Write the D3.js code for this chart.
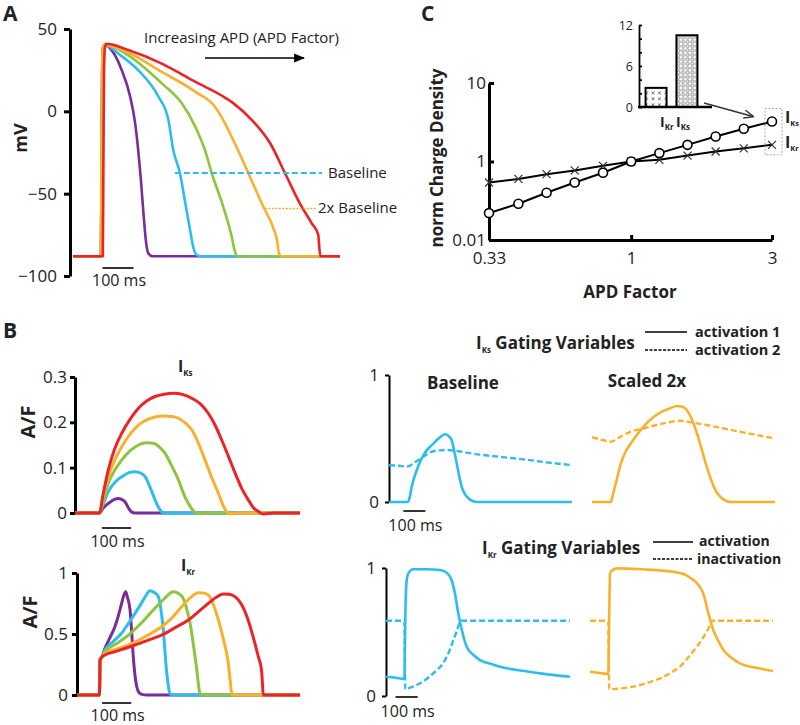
<!DOCTYPE html>
<html><head><meta charset="utf-8">
<script src="https://cdn.jsdelivr.net/npm/d3@7"></script>
<style>body{margin:0;background:#fff}svg{display:block}</style>
</head><body>
<svg id="fig" width="800" height="725"></svg>
<script>
// ---------------- DATA ----------------
const apdColors = ["#7a2d98", "#2dbcef", "#8cc63f", "#fbb02c", "#ec2327"]; // short -> long APD
// Panel A: action potentials [time ms, mV]
const mvTicks = [-100, -50, 0, 50];
const apPurple = [[-90,-88],[0,-88],[2,-30],[4,25],[7,39],[12,40.5],[35,37],[67,25],[94,9],[110,-7],[120,-23.5],[128,-40],[137,-62],[145,-79],[152,-86],[165,-88],[770,-88]];
const apBlue = [[-90,-88],[0,-88],[2,-30],[4,25],[7,39],[12,40.5],[56,35],[120,25],[185,9],[217,-5],[233,-23.5],[255,-38],[271,-55],[287,-72],[298,-83],[307,-87],[320,-88],[770,-88]];
const apGreen = [[-90,-88],[0,-88],[2,-30],[4,25],[7,39],[13,40.5],[88,34],[196,17],[260,5],[303,-9],[335,-23.5],[357,-37.6],[394,-58],[421,-76],[430,-84],[440,-88],[770,-88]];
const apOrange = [[-90,-88],[0,-88],[2,-30],[4,25],[7,39],[13,40.5],[88,35.6],[196,24],[303,12],[367,2.8],[394,-5.3],[426,-17.4],[475,-37.6],[518,-56],[561,-74],[568,-79],[573,-86],[582,-88],[770,-88]];
const apRed = [[-90,-88],[6,-88],[8,-30],[10,25],[13,39],[18,41],[88,37.2],[196,29],[303,18],[394,9],[426,5],[491,-6.3],[545,-19.4],[593,-37.6],[641,-56],[679,-68],[700,-75],[703,-82],[707,-88],[770,-88]];

// Panel B: IKs and IKr currents [time ms, A/F]
const iksTicks = [0, 0.1, 0.2, 0.3];
const iksPurple = [[-80,0],[4,0],[15,0.01],[34,0.021],[55,0.03],[68,0.032],[80,0.03],[91,0.025],[104,0.01],[114,0.002],[125,0],[690,0]];
const iksBlue = [[-80,0],[4,0],[15,0.017],[34,0.047],[60,0.07],[80,0.08],[105,0.089],[125,0.091],[145,0.088],[160,0.08],[178,0.055],[194,0.029],[210,0.008],[222,0],[690,0]];
const iksGreen = [[-80,0],[4,0],[15,0.022],[34,0.066],[55,0.093],[80,0.117],[110,0.138],[137,0.15],[165,0.155],[188,0.154],[210,0.145],[228,0.132],[250,0.105],[274,0.073],[290,0.045],[308,0.021],[325,0.005],[337,-0.001],[360,0],[690,0]];
const iksOrange = [[-80,0],[4,0],[15,0.03],[34,0.08],[55,0.115],[80,0.146],[110,0.175],[137,0.194],[175,0.208],[217,0.214],[250,0.213],[274,0.209],[300,0.197],[320,0.183],[345,0.15],[365,0.117],[390,0.075],[411,0.043],[428,0.015],[439,0.003],[450,-0.002],[480,0],[690,0]];
const iksRed = [[-80,0],[4,0],[15,0.037],[34,0.095],[55,0.14],[80,0.176],[110,0.208],[137,0.231],[165,0.247],[194,0.257],[225,0.262],[257,0.264],[290,0.261],[320,0.253],[350,0.24],[376,0.22],[400,0.193],[422,0.161],[445,0.125],[468,0.088],[490,0.055],[513,0.029],[530,0.012],[548,0.003],[565,-0.002],[600,0],[690,0]];
const ikrTicks = [0, 0.5, 1];
const ikrPurple = [[-75,0],[2,0],[4,0.287],[10,0.31],[21,0.383],[38,0.47],[55,0.56],[67,0.65],[78,0.75],[86,0.82],[92,0.847],[98,0.8],[107,0.697],[113,0.5],[118,0.314],[124,0.16],[130,0.068],[138,0.02],[147,0.005],[165,0],[690,0]];
const ikrBlue = [[-75,0],[2,0],[4,0.287],[10,0.31],[21,0.369],[50,0.44],[78,0.506],[105,0.6],[135,0.71],[158,0.8],[175,0.855],[190,0.84],[204,0.806],[213,0.7],[221,0.533],[227,0.35],[232,0.205],[238,0.08],[244,0.01],[255,0],[690,0]];
const ikrGreen = [[-75,0],[2,0],[4,0.287],[10,0.31],[21,0.355],[60,0.42],[101,0.49],[150,0.6],[192,0.71],[225,0.79],[255,0.847],[275,0.83],[290,0.79],[302,0.7],[313,0.588],[325,0.4],[336,0.205],[342,0.08],[347,0.01],[360,0],[690,0]];
const ikrOrange = [[-75,0],[2,0],[4,0.287],[10,0.31],[21,0.342],[60,0.375],[101,0.41],[160,0.48],[215,0.56],[250,0.63],[284,0.724],[315,0.8],[341,0.839],[360,0.835],[375,0.82],[393,0.74],[410,0.615],[428,0.45],[444,0.26],[450,0.13],[456,0.01],[465,0],[690,0]];
const ikrRed = [[-75,0],[2,0],[4,0.287],[10,0.31],[21,0.328],[55,0.355],[124,0.41],[170,0.45],[215,0.49],[260,0.55],[307,0.615],[345,0.69],[375,0.75],[405,0.805],[427,0.828],[447,0.825],[467,0.806],[490,0.74],[512,0.615],[530,0.47],[547,0.314],[558,0.205],[561,0.1],[564,0],[580,0],[690,0]];

// Gating variables [time ms, value]
const gateTicks = [0, 1];
const gksBaseAct1 = [[-85,0],[0,0],[8,0.03],[18,0.12],[41,0.252],[71,0.37],[116,0.46],[150,0.515],[169,0.533],[185,0.52],[199,0.488],[211,0.4],[222,0.305],[234,0.2],[245,0.12],[260,0.06],[275,0.03],[295,0.008],[313,0],[745,0]];
const gksBaseAct2 = [[-85,0.29],[-40,0.285],[0,0.28],[30,0.31],[71,0.357],[116,0.4],[177,0.41],[230,0.4],[298,0.38],[420,0.355],[524,0.336],[640,0.31],[745,0.29]];
const gksScaledAct1 = [[-85,0],[0,0],[10,0.06],[27,0.173],[42,0.28],[57,0.357],[103,0.49],[178,0.646],[230,0.71],[269,0.737],[299,0.756],[325,0.75],[345,0.724],[375,0.62],[405,0.462],[428,0.32],[450,0.2],[473,0.1],[496,0.042],[520,0.012],[541,0],[745,0]];
const gksScaledAct2 = [[-85,0.51],[-40,0.49],[0,0.475],[40,0.51],[88,0.553],[150,0.58],[208,0.606],[270,0.63],[314,0.64],[370,0.625],[435,0.606],[510,0.58],[586,0.553],[670,0.525],[745,0.5]];
const gkrBaseAct = [[-85,0.15],[-40,0.142],[-2,0.133],[2,0.6],[8,0.9],[16,0.958],[38,0.99],[100,0.99],[159,0.984],[189,0.963],[211,0.906],[226,0.8],[241,0.646],[257,0.516],[279,0.385],[310,0.32],[339,0.281],[400,0.245],[460,0.216],[540,0.195],[610,0.177],[745,0.15]];
const gkrBaseInact = [[-85,0.588],[-2,0.588],[0,0.3],[2,0.052],[30,0.07],[69,0.099],[110,0.15],[144,0.203],[170,0.25],[189,0.307],[205,0.37],[219,0.4375],[235,0.51],[249,0.58],[255,0.588],[745,0.588]];
const gkrScaledAct = [[-85,0.19],[-40,0.18],[-2,0.172],[2,0.6],[6,0.958],[15,0.98],[36,0.997],[150,0.99],[293,0.971],[350,0.945],[384,0.906],[410,0.86],[429,0.8],[452,0.646],[474,0.516],[497,0.43],[520,0.36],[555,0.3],[595,0.255],[670,0.22],[745,0.195]];
const gkrScaledInact = [[-85,0.588],[-2,0.588],[0,0.3],[2,0.052],[40,0.058],[112,0.073],[170,0.1],[233,0.138],[280,0.18],[323,0.229],[360,0.3],[399,0.385],[430,0.46],[459,0.555],[467,0.588],[745,0.588]];

// Panel C: normalized charge density vs APD factor
const apdFactors = [0.33, 0.415, 0.517, 0.644, 0.803, 1, 1.246, 1.552, 1.933, 2.408, 3];
const iksCharge = [0.22, 0.29, 0.40, 0.54, 0.72, 1.0, 1.28, 1.63, 2.08, 2.61, 3.23];
const ikrCharge = [0.54, 0.60, 0.69, 0.77, 0.88, 1.0, 1.05, 1.19, 1.34, 1.47, 1.63];
const chargeYTicks = [0.1, 1, 10];
const chargeYLabels = ["0.01", "1", "10"];
const factorTicks = [0.33, 1, 3];
const factorLabels = ["0.33", "1", "3"];
// Inset: ratio bars
const insetCats = ["IKr", "IKs"];
const insetVals = [2.8, 10.5];
const insetTicks = [0, 2, 4, 6, 8, 10, 12];

// ---------------- HELPERS ----------------
const FONT = "'Open Sans', Lato, sans-serif";
const svg = d3.select("#fig");
svg.append("rect").attr("width", 800).attr("height", 725).attr("fill", "#fff");

function styleAxis(g, sw, fs) {
  g.attr("font-family", FONT).attr("font-size", fs);
  g.select(".domain").attr("stroke", "#000").attr("stroke-width", sw);
  g.selectAll(".tick line").attr("stroke", "#000").attr("stroke-width", sw);
  g.selectAll(".tick text").attr("fill", "#222");
}
function drawLine(data, x, y, color, width, dash, curve) {
  svg.append("path").datum(data)
    .attr("d", d3.line().x(d => x(d[0])).y(d => y(d[1])).curve(curve || d3.curveMonotoneX))
    .attr("fill", "none").attr("stroke", color).attr("stroke-width", width)
    .attr("stroke-linejoin", "round").attr("stroke-dasharray", dash || null);
}
function txt(x, y, s, size, weight, anchor, rot) {
  const t = svg.append("text").attr("font-family", FONT).attr("font-size", size)
    .attr("font-weight", weight || "normal").attr("text-anchor", anchor || "start").attr("fill", "#222").text(s);
  if (rot) t.attr("transform", `translate(${x},${y}) rotate(${rot})`); else t.attr("x", x).attr("y", y);
  return t;
}
function subTxt(x, y, main, sub, fm, fsub, rest) {
  const t = svg.append("text").attr("x", x).attr("y", y).attr("font-family", FONT)
    .attr("font-weight", "bold").attr("font-size", fm).attr("fill", "#222");
  t.append("tspan").text(main);
  t.append("tspan").attr("font-size", fsub).attr("dy", fm * 0.22).text(sub);
  if (rest) t.append("tspan").attr("dy", -fm * 0.22).text(rest);
  return t;
}
function scaleBar(x, t1, yPix, textY) {
  svg.append("line").attr("x1", x(t1)).attr("x2", x(t1 + 100)).attr("y1", yPix).attr("y2", yPix)
    .attr("stroke", "#000").attr("stroke-width", 1.6);
  txt((x(t1) + x(t1 + 100)) / 2 + 1, textY, "100 ms", 16, "normal", "middle");
}

// ---------------- PANEL A ----------------
const xA = d3.scaleLinear().domain([-90, 770]).range([73, 340]);
const yA = d3.scaleLinear().domain([-100, 50]).range([276, 29]);
styleAxis(svg.append("g").attr("transform", "translate(70,0)")
  .call(d3.axisLeft(yA).tickValues(mvTicks).tickSize(6).tickSizeOuter(0).tickPadding(7)), 3, 17);
[apPurple, apBlue, apGreen, apOrange, apRed].forEach((d, i) => drawLine(d, xA, yA, apdColors[i], 2.6));
txt(3, 21, "A", 21, "bold");
txt(27, 138, "mV", 18, "bold", "middle", -90);
scaleBar(xA, 5, 268, 286);
txt(144, 43, "Increasing APD (APD Factor)", 15);
svg.append("defs").html(`
 <marker id="ah" viewBox="0 0 10 10" refX="9" refY="5" markerWidth="11" markerHeight="11" markerUnits="userSpaceOnUse" orient="auto"><path d="M0,1 L10,5 L0,9 z" fill="#000"/></marker>
 <marker id="ah2" viewBox="0 0 10 10" refX="9" refY="5" markerWidth="10" markerHeight="10" markerUnits="userSpaceOnUse" orient="auto"><path d="M0,1 L10,5 L0,9" fill="none" stroke="#333" stroke-width="1.4"/></marker>
 <pattern id="xpat" width="6.5" height="6" patternUnits="userSpaceOnUse"><path d="M1.6,1.4 L4.4,4.2 M4.4,1.4 L1.6,4.2" stroke="#555" stroke-width="0.9"/></pattern>
 <pattern id="opat" width="4.6" height="4.4" patternUnits="userSpaceOnUse"><circle cx="2.3" cy="2.2" r="1.5" fill="#fff" stroke="#666" stroke-width="0.8"/></pattern>`);
svg.append("line").attr("x1", 205).attr("x2", 304).attr("y1", 58).attr("y2", 58)
  .attr("stroke", "#000").attr("stroke-width", 1.3).attr("marker-end", "url(#ah)");
svg.append("line").attr("x1", xA(238)).attr("x2", xA(712)).attr("y1", yA(-37.5)).attr("y2", yA(-37.5))
  .attr("stroke", apdColors[1]).attr("stroke-width", 2).attr("stroke-dasharray", "6,3");
txt(328, yA(-37.5) + 5, "Baseline", 15);
svg.append("line").attr("x1", xA(528)).attr("x2", xA(695)).attr("y1", yA(-59)).attr("y2", yA(-59))
  .attr("stroke", apdColors[3]).attr("stroke-width", 1.6).attr("stroke-dasharray", "2,1.5");
txt(318, yA(-59) + 5, "2x Baseline", 15);

// ---------------- PANEL C ----------------
const xC = d3.scaleLog().domain([0.33, 3]).range([489, 772]);
const yC = d3.scaleLog().domain([0.1, 10]).range([240, 83]);
styleAxis(svg.append("g").attr("transform", "translate(489,0)")
  .call(d3.axisLeft(yC).tickValues(chargeYTicks).tickFormat((d, i) => chargeYLabels[i]).tickSize(-5).tickSizeOuter(0).tickPadding(3)), 3, 17);
styleAxis(svg.append("g").attr("transform", "translate(0,240)")
  .call(d3.axisBottom(xC).tickValues(factorTicks).tickFormat((d, i) => factorLabels[i]).tickSize(-5).tickSizeOuter(0).tickPadding(12)), 3, 17);
txt(421, 21, "C", 21, "bold");
txt(630, 298, "APD Factor", 17, "bold", "middle");
txt(443, 158, "norm Charge Density", 17, "bold", "middle", -90);
const ikrPts = apdFactors.map((f, i) => [f, ikrCharge[i]]);
const iksPts = apdFactors.map((f, i) => [f, iksCharge[i]]);
drawLine(ikrPts, xC, yC, "#000", 2, null, d3.curveLinear);
drawLine(iksPts, xC, yC, "#000", 2, null, d3.curveLinear);
svg.append("g").selectAll("path").data(ikrPts).join("path")
  .attr("transform", d => `translate(${xC(d[0])},${yC(d[1])})`)
  .attr("d", "M-4,-4L4,4M4,-4L-4,4").attr("stroke", "#333").attr("stroke-width", 1.2);
svg.append("g").selectAll("circle").data(iksPts).join("circle")
  .attr("cx", d => xC(d[0])).attr("cy", d => yC(d[1])).attr("r", 4.5)
  .attr("fill", "#fff").attr("stroke", "#000").attr("stroke-width", 1.6);
const lastX = xC(apdFactors[apdFactors.length - 1]);
svg.append("rect").attr("x", lastX - 7).attr("y", yC(iksCharge[iksCharge.length - 1]) - 13)
  .attr("width", 17).attr("height", yC(ikrCharge[ikrCharge.length - 1]) - yC(iksCharge[iksCharge.length - 1]) + 23)
  .attr("fill", "none").attr("stroke", "#aaa").attr("stroke-width", 1).attr("stroke-dasharray", "2,1.5");
subTxt(785, yC(iksCharge[iksCharge.length - 1]) + 1, "I", "Ks", 16, 7.5);
subTxt(785, yC(ikrCharge[ikrCharge.length - 1]) + 3, "I", "Kr", 16, 7.5);

// inset
const yIn = d3.scaleLinear().domain([0, 12]).range([107, 25]);
const xIn = d3.scaleBand().domain(insetCats).range([640, 703]).paddingInner(0.32).paddingOuter(0.18);
styleAxis(svg.append("g").attr("transform", "translate(639,0)")
  .call(d3.axisLeft(yIn).tickValues(insetTicks).tickFormat(d => (d % 6 === 0 ? d : "")).tickSize(-3).tickSizeOuter(0).tickPadding(6)), 1.8, 12.5);
svg.selectAll(".insetbar").data(insetVals).join("rect")
  .attr("x", (d, i) => xIn(insetCats[i])).attr("width", xIn.bandwidth())
  .attr("y", d => yIn(d)).attr("height", d => yIn(0) - yIn(d))
  .attr("fill", (d, i) => i === 0 ? "url(#xpat)" : "url(#opat)").attr("stroke", "#000").attr("stroke-width", 2);
svg.append("line").attr("x1", 638).attr("x2", 712).attr("y1", yIn(0)).attr("y2", yIn(0)).attr("stroke", "#000").attr("stroke-width", 2.5);
subTxt(660, 127, "I", "Kr", 14, 8);
subTxt(676, 127, "I", "Ks", 14, 8);
svg.append("line").attr("x1", 704).attr("y1", 103).attr("x2", 753).attr("y2", 116.5)
  .attr("stroke", "#333").attr("stroke-width", 1.4).attr("marker-end", "url(#ah2)");

// ---------------- PANEL B left: IKs ----------------
txt(3, 338, "B", 21, "bold");
const xBs = d3.scaleLinear().domain([-80, 690]).range([75, 300]);
const yBs = d3.scaleLinear().domain([0, 0.3]).range([513, 377]);
styleAxis(svg.append("g").attr("transform", "translate(75,0)")
  .call(d3.axisLeft(yBs).tickValues(iksTicks).tickFormat(d => d === 0 ? "0" : d3.format(".1f")(d)).tickSize(5).tickSizeOuter(0).tickPadding(3)), 3, 17);
[iksPurple, iksBlue, iksGreen, iksOrange, iksRed].forEach((d, i) => drawLine(d, xBs, yBs, apdColors[i], 3));
txt(35, 422, "A/F", 20, "bold", "middle", -90);
subTxt(178, 372, "I", "Ks", 16, 8);
scaleBar(xBs, 12, 528, 547);

// ---------------- PANEL B left: IKr ----------------
const xBr = d3.scaleLinear().domain([-75, 690]).range([77, 300]);
const yBr = d3.scaleLinear().domain([0, 1]).range([695, 573]);
styleAxis(svg.append("g").attr("transform", "translate(77,0)")
  .call(d3.axisLeft(yBr).tickValues(ikrTicks).tickFormat(d => d3.format("")(d)).tickSize(5).tickSizeOuter(0).tickPadding(4)), 3, 17);
[ikrPurple, ikrBlue, ikrGreen, ikrOrange, ikrRed].forEach((d, i) => drawLine(d, xBr, yBr, apdColors[i], 3));
txt(37, 612, "A/F", 20, "bold", "middle", -90);
subTxt(181, 571, "I", "Kr", 16, 8);
scaleBar(xBr, 11, 703, 721);

// ---------------- PANEL B right: IKs gating ----------------
const xGsB = d3.scaleLinear().domain([-85, 745]).range([389, 572]);
const xGsS = d3.scaleLinear().domain([-85, 745]).range([592, 775]);
const yGs = d3.scaleLinear().domain([0, 1]).range([502, 375]);
styleAxis(svg.append("g").attr("transform", "translate(389,0)")
  .call(d3.axisLeft(yGs).tickValues(gateTicks).tickFormat(d3.format("d")).tickSize(4).tickSizeOuter(0).tickPadding(6)), 2, 17);
drawLine(gksBaseAct2, xGsB, yGs, apdColors[1], 2.4, "6,3");
drawLine(gksBaseAct1, xGsB, yGs, apdColors[1], 2.6);
drawLine(gksScaledAct2, xGsS, yGs, apdColors[3], 2.4, "6,3");
drawLine(gksScaledAct1, xGsS, yGs, apdColors[3], 2.6);
txt(463, 389, "Baseline", 17, "bold", "middle");
txt(647, 387, "Scaled 2x", 17, "bold", "middle");
scaleBar(xGsB, -20, 511, 531);
subTxt(476, 349, "I", "Ks", 17, 8, " Gating Variables");
svg.append("line").attr("x1", 645).attr("x2", 687).attr("y1", 332).attr("y2", 332).attr("stroke", "#000").attr("stroke-width", 1.6);
svg.append("line").attr("x1", 645).attr("x2", 687).attr("y1", 350).attr("y2", 350).attr("stroke", "#000").attr("stroke-width", 1.6).attr("stroke-dasharray", "3,1.5");
txt(695, 337, "activation 1", 14.5, "bold");
txt(695, 355, "activation 2", 14.5, "bold");

// ---------------- PANEL B right: IKr gating ----------------
const xGrB = d3.scaleLinear().domain([-85, 745]).range([386, 570]);
const xGrS = d3.scaleLinear().domain([-85, 745]).range([590, 773]);
const yGr = d3.scaleLinear().domain([0, 1]).range([696, 568]);
styleAxis(svg.append("g").attr("transform", "translate(386,0)")
  .call(d3.axisLeft(yGr).tickValues(gateTicks).tickFormat(d3.format("d")).tickSize(4).tickSizeOuter(0).tickPadding(6)), 2, 17);
drawLine(gkrBaseInact, xGrB, yGr, apdColors[1], 2.4, "6,3");
drawLine(gkrBaseAct, xGrB, yGr, apdColors[1], 2.6);
drawLine(gkrScaledInact, xGrS, yGr, apdColors[3], 2.4, "6,3");
drawLine(gkrScaledAct, xGrS, yGr, apdColors[3], 2.6);
scaleBar(xGrB, -42, 697, 717);
subTxt(482, 554, "I", "Kr", 17, 8, " Gating Variables");
svg.append("line").attr("x1", 653).attr("x2", 693).attr("y1", 542).attr("y2", 542).attr("stroke", "#000").attr("stroke-width", 1.6);
svg.append("line").attr("x1", 653).attr("x2", 693).attr("y1", 559).attr("y2", 559).attr("stroke", "#000").attr("stroke-width", 1.6).attr("stroke-dasharray", "3,1.5");
txt(699, 546, "activation", 14, "bold");
txt(697, 564, "inactivation", 14, "bold");
</script>
</body></html>
